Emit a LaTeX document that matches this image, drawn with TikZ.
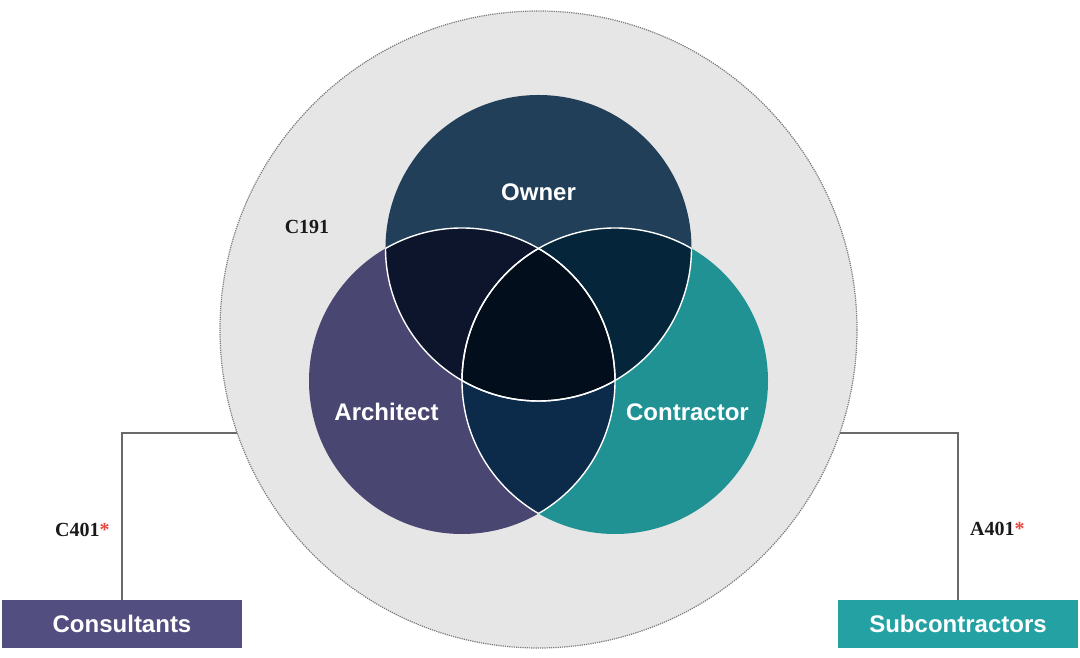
\documentclass[tikz,border=0pt]{standalone}
\usepackage{fontspec}
\setmainfont{Liberation Sans}
\newfontfamily\codefont{Liberation Serif}
\usetikzlibrary{calc}

\definecolor{areagray}{HTML}{E6E6E6}
\definecolor{dotgray}{HTML}{7A7A7A}
\definecolor{ownerblue}{HTML}{213F58}
\definecolor{archpurple}{HTML}{4A4672}
\definecolor{contrteal}{HTML}{219294}
\definecolor{ownarch}{HTML}{0C152C}
\definecolor{owncontr}{HTML}{05263A}
\definecolor{archcontr}{HTML}{0C2B4A}
\definecolor{allthree}{HTML}{020E1C}
\definecolor{conspurple}{HTML}{524E7F}
\definecolor{subteal}{HTML}{23A1A3}
\definecolor{linkgray}{HTML}{6A6A6A}
\definecolor{starred}{HTML}{E8453C}

\begin{document}
\begin{tikzpicture}[x=1pt, y=1pt,
    party/.style={text=white, font=\bfseries\fontsize{24}{28}\selectfont},
    docnum/.style={text=black!90, inner sep=0, font=\codefont\bfseries\fontsize{20}{24}\selectfont},
    tierbox/.style={minimum width=240, minimum height=48, inner sep=0, text=white,
                    font=\bfseries\fontsize{24}{28}\selectfont},
    link/.style={draw=linkgray, line width=1.8}]
            \useasboundingbox (0,0) rectangle (1080,658);

            % Contract area
            \node[circle, minimum size=637, inner sep=0, outer sep=0, fill=areagray,
                  draw=dotgray, densely dotted, line width=1.2] (area) at (538.5,328.5) {};
            \node[docnum] (c191) at (307,431) {C191};

            % Circle centres
            \coordinate (O) at (538.5,410);
            \coordinate (A) at (462,277);
            \coordinate (C) at (615,277);

            % Parties
            \fill[ownerblue] (O) circle (153);
            \fill[archpurple] (A) circle (153);
            \fill[contrteal] (C) circle (153);

            % Overlaps
            \begin{scope}
                \clip (O) circle (153);
                \fill[ownarch] (A) circle (153);
                \fill[owncontr] (C) circle (153);
            \end{scope}
            \begin{scope}
                \clip (A) circle (153);
                \fill[archcontr] (C) circle (153);
            \end{scope}
            \begin{scope}
                \clip (O) circle (153);
                \clip (A) circle (153);
                \fill[allthree] (C) circle (153);
            \end{scope}

            % White borders inside the overlaps
            \begin{scope}
                \clip (O) circle (153);
                \draw[white, line width=1.4] (A) circle (153);
                \draw[white, line width=1.4] (C) circle (153);
            \end{scope}
            \begin{scope}
                \clip (A) circle (153);
                \draw[white, line width=1.4] (O) circle (153);
                \draw[white, line width=1.4] (C) circle (153);
            \end{scope}
            \begin{scope}
                \clip (C) circle (153);
                \draw[white, line width=1.4] (O) circle (153);
                \draw[white, line width=1.4] (A) circle (153);
            \end{scope}

            % Labels
            \node[party] (owner) at (538.5,466) {Owner};
            \node[party] (architect) at (386.5,246) {Architect};
            \node[party] (contractor) at (687.5,246) {Contractor};

            % Lower tier
            \node[tierbox, fill=conspurple] (consultants) at (122,34) {Consultants};
            \node[tierbox, fill=subteal] (subs) at (958,34) {Subcontractors};

            \draw[link] (area.199.7) -| (consultants.north);
            \draw[link] (area.-19.7) -| (subs.north);

            \node[docnum, anchor=west] (c401) at (55,128) {C401{\color{starred}*}};
            \node[docnum, anchor=west] (a401) at (970,129) {A401{\color{starred}*}};
\end{tikzpicture}
\end{document}
